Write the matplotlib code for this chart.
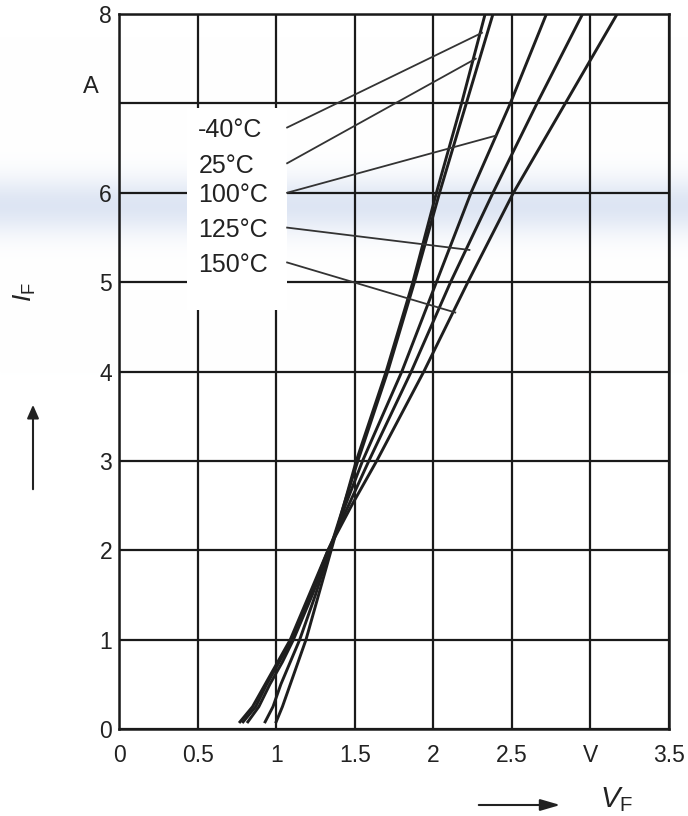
import numpy as np
import matplotlib
matplotlib.use("Agg")
import matplotlib.pyplot as plt
from matplotlib.patches import Rectangle, FancyArrowPatch

plt.rcParams['font.family'] = ['Liberation Sans', 'DejaVu Sans']
plt.rcParams['mathtext.fontset'] = 'custom'
plt.rcParams['mathtext.rm'] = 'Liberation Sans'
plt.rcParams['mathtext.it'] = 'Liberation Sans:italic'

# Forward current levels (A) and forward voltage (V) per temperature
current = [0.08, 0.25, 0.5, 0.75, 1.0, 1.5, 2.0, 2.5, 3.0, 4.0, 5.0, 6.0, 7.0, 8.0]
vf_m40 = [1.00, 1.04, 1.09, 1.14, 1.19, 1.27, 1.35, 1.43, 1.51, 1.70, 1.87, 2.02, 2.18, 2.33]
vf_25 = [0.93, 0.98, 1.03, 1.09, 1.15, 1.25, 1.34, 1.43, 1.52, 1.71, 1.88, 2.04, 2.21, 2.38]
vf_100 = [0.82, 0.89, 0.96, 1.04, 1.11, 1.23, 1.34, 1.44, 1.55, 1.80, 2.02, 2.24, 2.49, 2.72]
vf_125 = [0.79, 0.87, 0.94, 1.02, 1.10, 1.22, 1.33, 1.46, 1.59, 1.86, 2.11, 2.38, 2.66, 2.95]
vf_150 = [0.77, 0.85, 0.93, 1.01, 1.09, 1.21, 1.33, 1.48, 1.64, 1.94, 2.22, 2.51, 2.84, 3.17]

labels = ['-40°C', '25°C', '100°C', '125°C', '150°C']
label_y = [6.70, 6.30, 5.97, 5.58, 5.19]
leader_end_x = [2.31, 2.27, 2.40, 2.23, 2.14]
leader_end_y = [7.79, 7.50, 6.64, 5.36, 4.66]

xticks = [0, 0.5, 1, 1.5, 2, 2.5, 3, 3.5]
xticklabels = ['0', '0.5', '1', '1.5', '2', '2.5', 'V', '3.5']
yticks = [0, 1, 2, 3, 4, 5, 6, 7, 8]
yticklabels = ['0', '1', '2', '3', '4', '5', '6', '', '8']

W, H = 688, 816
fig = plt.figure(figsize=(W / 100, H / 100), dpi=100)
fig.patch.set_facecolor('white')

# faint bluish scan band across page
bg = fig.add_axes([0, 0, 1, 1], zorder=-10)
bg.set_axis_off()
yy = np.linspace(0, 1, 400)
prof = np.exp(-((yy - (1 - 205 / H)) / 0.035) ** 2)
img = np.ones((400, 2, 3))
band_col = np.array([0.87, 0.90, 0.955])
img = img * (1 - prof[:, None, None]) + band_col[None, None, :] * prof[:, None, None]
bg.imshow(img, extent=[0, 1, 0, 1], origin='lower', aspect='auto')
bg.set_xlim(0, 1)
bg.set_ylim(0, 1)

ax = fig.add_axes([119 / W, 1 - 729 / H, 550 / W, 715 / H])
ax.set_facecolor('none')
ax.set_xlim(0, 3.5)
ax.set_ylim(0, 8)
ax.set_xticks(xticks)
ax.set_xticklabels(xticklabels)
ax.set_yticks(yticks)
ax.set_yticklabels(yticklabels)
ax.tick_params(length=0, labelsize=16.5, colors='#222222')
ax.tick_params(axis='x', pad=11)
ax.tick_params(axis='y', pad=5)
ax.grid(True, color='#1a1a1a', lw=1.6)
ax.set_axisbelow(True)
for s in ax.spines.values():
    s.set_color('#1a1a1a')
    s.set_linewidth(1.8)

# white box behind the labels
ax.add_patch(Rectangle((0.43, 4.69), 0.64, 2.26, facecolor='white', edgecolor='none', zorder=1.5))

for v in [vf_m40, vf_25, vf_100, vf_125, vf_150]:
    ax.plot(v, current, color='#1e1e1e', lw=2.1, zorder=3, solid_joinstyle='round')

for lab, ly, ex, ey in zip(labels, label_y, leader_end_x, leader_end_y):
    ax.text(0.505, ly, lab, fontsize=18, ha='left', va='center', color='#222222', zorder=4)
    ax.plot([1.07, ex], [ly + 0.03, ey], color='#333333', lw=1.3, zorder=3)

fig.text(91 / W, 1 - 87 / H, 'A', fontsize=17, ha='center', va='center', color='#222222')

# axis labels with arrows
fig.text(25 / W, 1 - 292 / H, r'$\mathit{I}_{\mathrm{F}}$', fontsize=19, rotation=90,
         ha='center', va='center', color='#222222')
fig.text(616 / W, 1 - 800 / H, r'$\mathit{V}_{\mathrm{F}}$', fontsize=21,
         ha='center', va='center', color='#222222')
fig.add_artist(FancyArrowPatch(
    (33 / W, 1 - 492 / H), (33 / W, 1 - 402 / H), transform=fig.transFigure,
    arrowstyle='-|>,head_length=8,head_width=3.5', color='#222222', lw=1.5))
fig.add_artist(FancyArrowPatch(
    (476 / W, 1 - 805 / H), (563 / W, 1 - 805 / H), transform=fig.transFigure,
    arrowstyle='-|>,head_length=12,head_width=3.5', color='#222222', lw=1.5))

fig.savefig('out.png', dpi=100, facecolor='white')
